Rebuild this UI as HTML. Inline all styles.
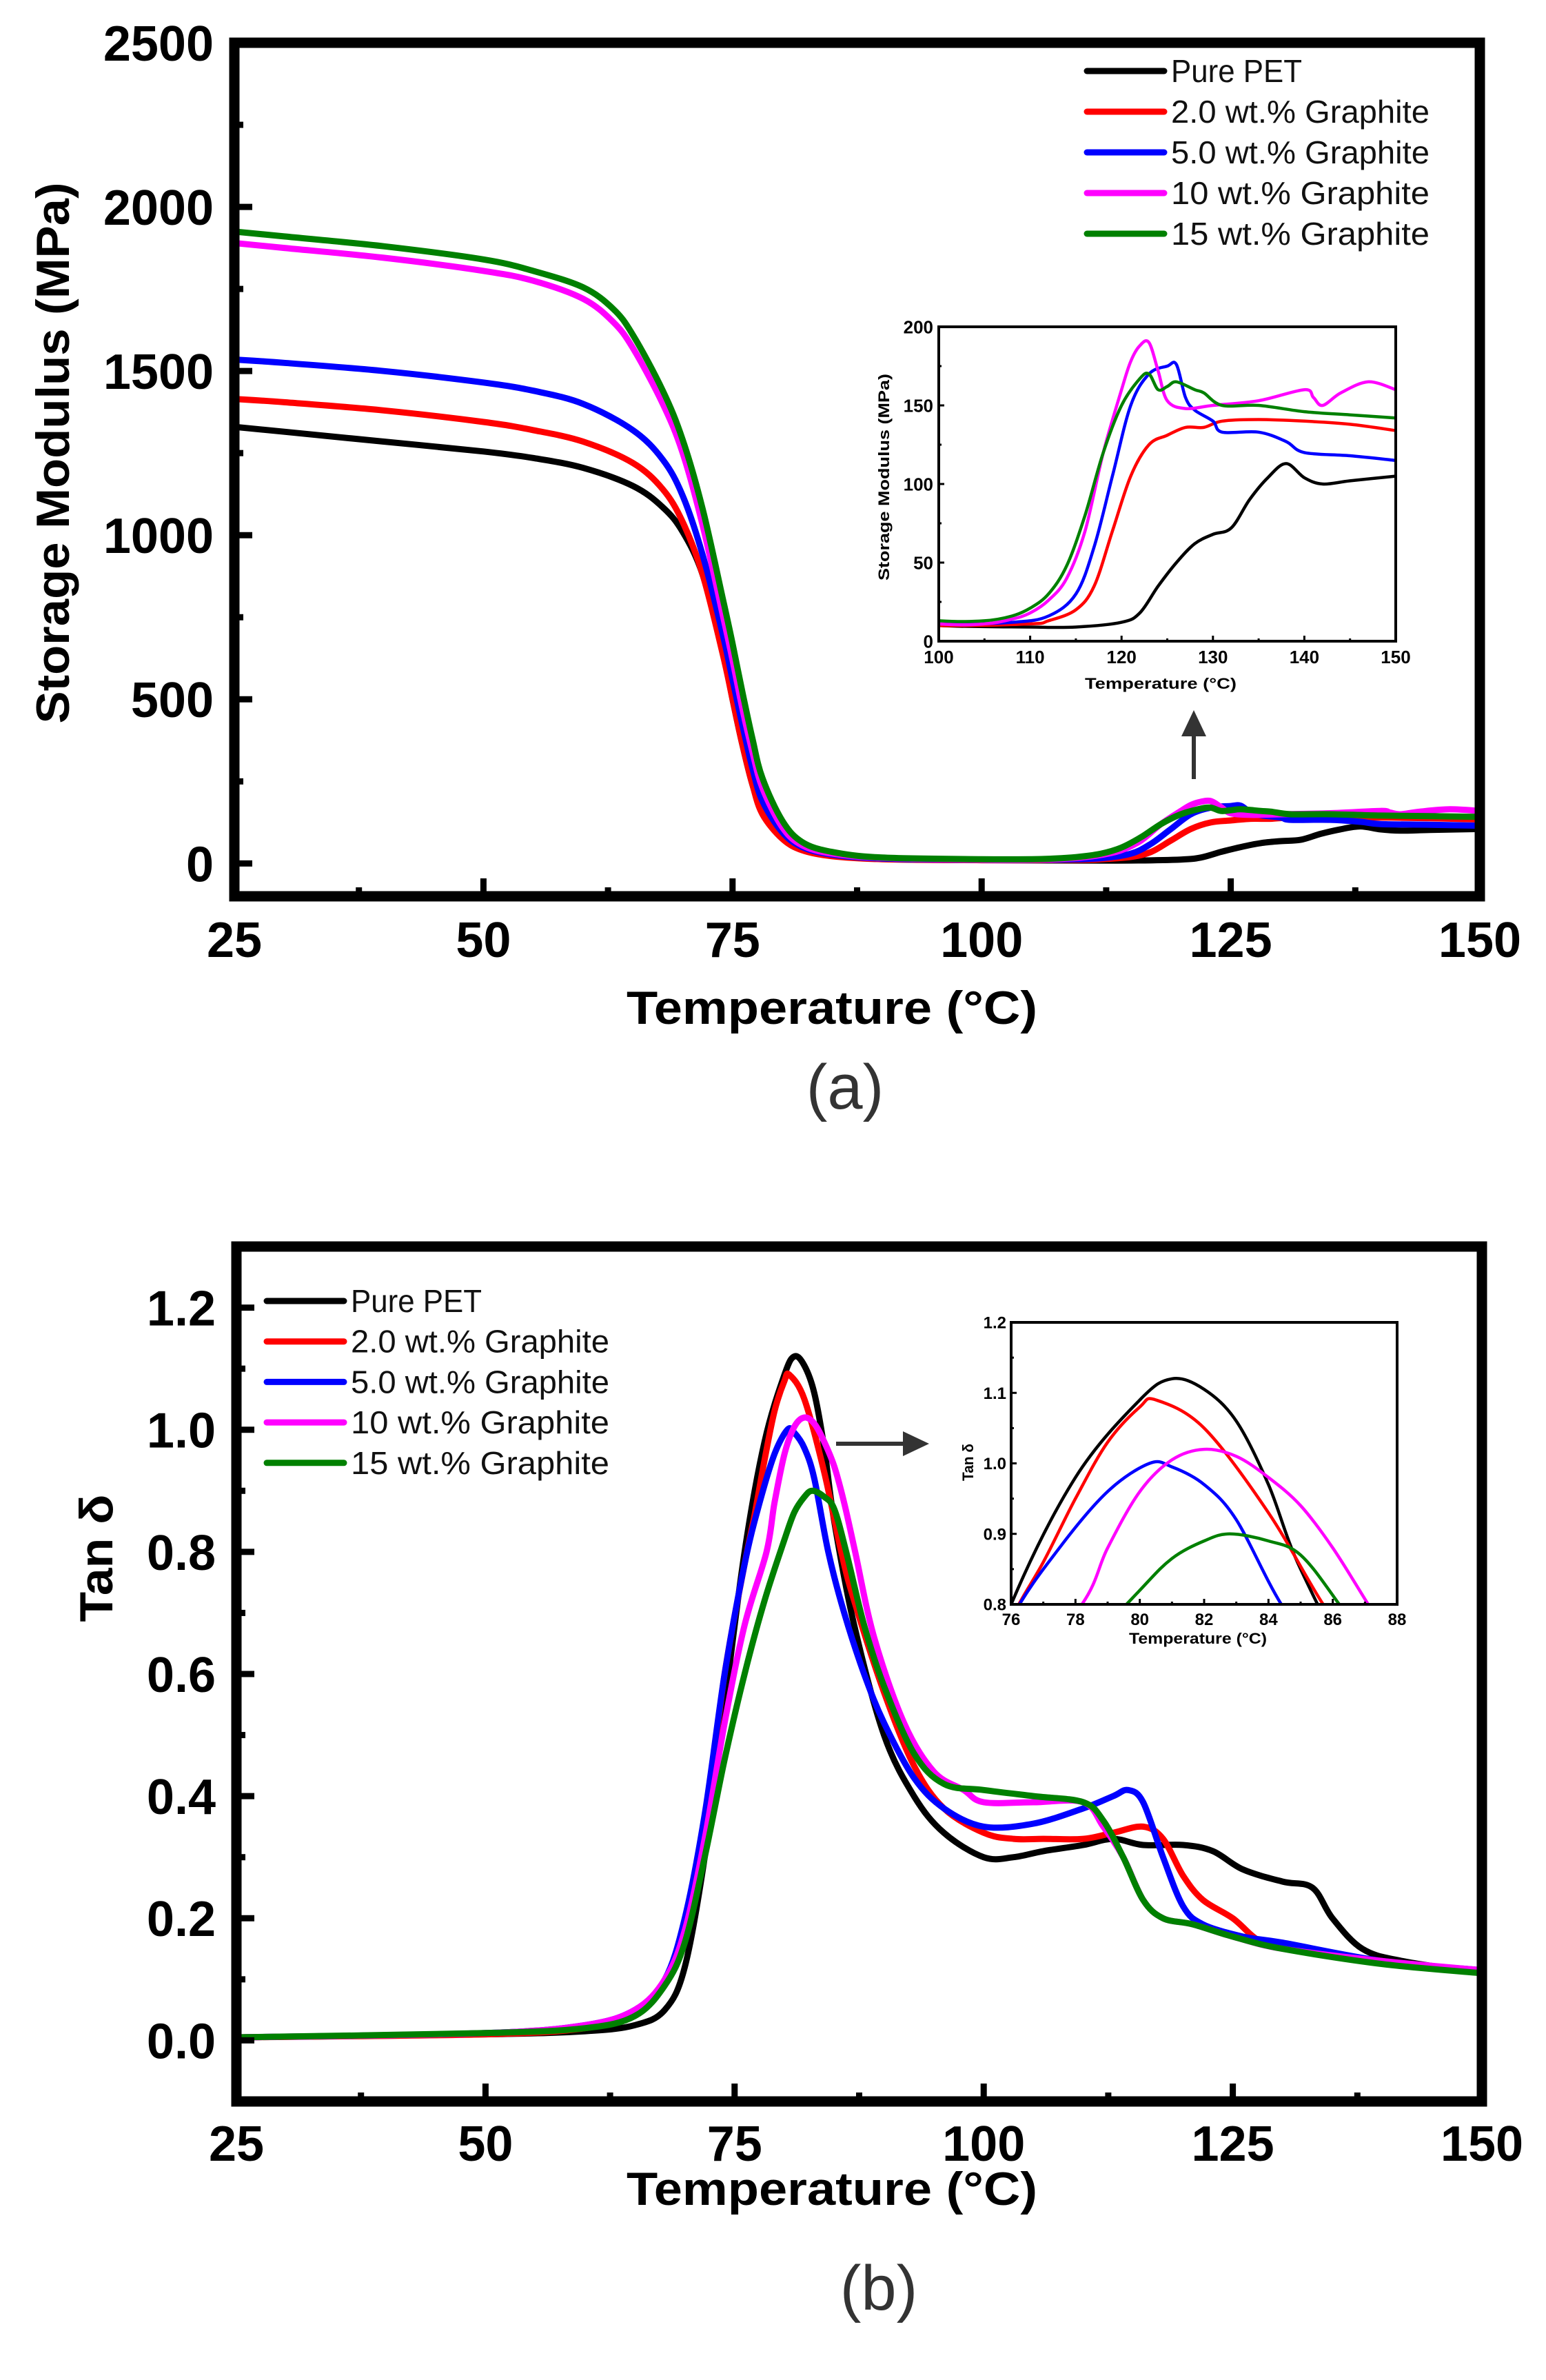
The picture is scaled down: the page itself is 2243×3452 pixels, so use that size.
<!DOCTYPE html>
<html><head><meta charset="utf-8"><style>
html,body{margin:0;padding:0;background:#fff;}
svg{display:block;font-family:"Liberation Sans",Arial,sans-serif;}
</style></head><body>
<svg id="fig" width="2243" height="3452" viewBox="0 0 2243 3452" xmlns="http://www.w3.org/2000/svg">
<defs>
<clipPath id="clipA"><rect x="340" y="62" width="1807" height="1238"/></clipPath>
<clipPath id="clipAi"><rect x="1362" y="474" width="663" height="456"/></clipPath>
<clipPath id="clipB"><rect x="343" y="1808" width="1807" height="1240"/></clipPath>
<clipPath id="clipBi"><rect x="1467" y="1918" width="560" height="409"/></clipPath>
</defs>
<g id="root"></g>
</svg>
<script>
// ---------- data: storage modulus (panel a) ----------
const seriesNames = ["Pure PET","2.0 wt.% Graphite","5.0 wt.% Graphite","10  wt.% Graphite","15  wt.% Graphite"];
const seriesColors = ["#000000","#ff0000","#0000ff","#ff00ff","#008000"];
const modT0 = [25,30,40,50,55,60,65,68,70,72,74,75,76,77,78,80,82,85,90,100,110,115,120,122,124,126,128,130,132,134,136,138,140,142,145,150];
const modV0 = [1330,1315,1285,1255,1235,1205,1150,1085,1010,880,650,500,360,240,160,80,45,25,15,10,9,9,12,18,35,50,62,68,72,90,104,113,104,100,102,105];
const modT1 = [25,30,40,50,55,60,65,68,70,72,74,75,76,77,78,80,82,85,90,100,110,112,115,117,119,121,123,125,127,129,131,135,140,145,150];
const modV1 = [1415,1405,1380,1345,1320,1285,1220,1140,1040,880,640,500,360,240,150,75,40,22,13,10,11,13,20,35,70,105,125,131,136,136,140,141,140,138,134];
const modT2 = [25,30,40,50,55,60,65,68,70,72,74,75,76,77,78,80,82,85,90,100,108,112,115,117,119,121,123,125,126,127,128,130,131,135,138,140,145,150];
const modV2 = [1535,1525,1500,1465,1440,1400,1320,1230,1120,940,700,560,420,290,190,95,50,27,15,11,12,16,30,60,105,150,170,175,176,155,147,140,133,133,127,120,118,115];
const modT3 = [25,30,40,50,55,60,63,65,68,70,72,74,75,76,77,78,80,82,85,90,100,105,108,110,112,114,116,118,120,121,122,123,124,125,127,130,135,140,141,142,144,147,150];
const modV3 = [1890,1875,1845,1805,1775,1720,1650,1570,1400,1250,1030,760,620,470,340,230,110,55,30,17,11,11,14,18,26,40,70,120,160,178,188,190,172,153,148,150,153,160,155,150,158,165,160];
const modT4 = [25,30,40,50,55,60,63,65,68,70,72,74,75,76,77,78,80,82,85,90,100,105,108,110,112,114,116,118,120,122,123,124,125,126,128,129,131,135,140,145,150];
const modV4 = [1925,1910,1880,1840,1805,1755,1690,1610,1440,1290,1080,810,670,520,380,260,130,65,35,18,13,13,16,21,30,48,80,120,150,167,170,160,162,165,160,158,150,150,146,144,142];
// ---------- data: tan delta (panel b) ----------
const tanT0 = [25,50,60,65,68,70,72,74,76,78,80,81,82,83,84,85,87,90,93,96,100,103,106,110,113,116,120,123,126,130,133,135,138,142,150];
const tanV0 = [0.005,0.01,0.015,0.025,0.05,0.12,0.3,0.55,0.8,0.98,1.09,1.12,1.105,1.06,0.97,0.85,0.68,0.5,0.4,0.34,0.3,0.3,0.31,0.32,0.33,0.32,0.32,0.31,0.28,0.26,0.25,0.2,0.15,0.13,0.11];
const tanT1 = [25,50,60,65,68,70,72,74,76,77,78,79,80,80.5,82,84,85.7,87,90,93,96,100,103,106,110,113,116,118,120,122,125,128,132,140,150];
const tanV1 = [0.005,0.01,0.02,0.045,0.1,0.18,0.35,0.6,0.78,0.86,0.95,1.03,1.08,1.09,1.05,0.93,0.8,0.72,0.57,0.45,0.38,0.34,0.33,0.33,0.33,0.34,0.35,0.33,0.27,0.23,0.2,0.16,0.15,0.13,0.11];
const tanT2 = [25,50,60,65,68,70,72,74,76,77.5,79,80.3,81,82,83,84.4,86,88,90,93,96,100,105,110,113,114.5,116,118,120,122,126,130,140,150];
const tanV2 = [0.005,0.012,0.025,0.05,0.1,0.2,0.37,0.6,0.78,0.88,0.96,1.0,0.995,0.97,0.92,0.8,0.7,0.6,0.52,0.43,0.38,0.35,0.355,0.38,0.4,0.41,0.39,0.3,0.22,0.19,0.17,0.16,0.13,0.115];
const tanT3 = [25,50,60,65,68,70,72,74,76,78.2,79,80,81,82,83,84,85,86,87.1,89,92,95,98,100,105,110,112,114,116,118,121,125,130,140,150];
const tanV3 = [0.005,0.012,0.025,0.05,0.1,0.18,0.33,0.52,0.68,0.8,0.88,0.96,1.005,1.02,1.01,0.98,0.94,0.88,0.8,0.66,0.52,0.44,0.41,0.39,0.39,0.39,0.35,0.3,0.23,0.2,0.19,0.17,0.15,0.13,0.115];
const tanT4 = [25,50,60,65,68,70,72,74,76,78,80,81,82,82.8,84,85,86.2,88,90,93,96,100,105,110,112,114,116,118,121,125,130,140,150];
const tanV4 = [0.005,0.012,0.02,0.04,0.09,0.16,0.3,0.46,0.6,0.72,0.82,0.865,0.89,0.9,0.89,0.87,0.8,0.68,0.58,0.47,0.42,0.41,0.4,0.39,0.36,0.3,0.23,0.2,0.19,0.17,0.15,0.125,0.11];
// ---------- tick labels ----------
const mainXTicks = [25,50,75,100,125,150];
const modYTicks = [0,500,1000,1500,2000,2500];
const tanYTicks = [0.0,0.2,0.4,0.6,0.8,1.0,1.2];
const insetAXTicks = [100,110,120,130,140,150];
const insetAYTicks = [0,50,100,150,200];
const insetBXTicks = [76,78,80,82,84,86,88];
const insetBYTicks = [0.8,0.9,1.0,1.1,1.2];

const modT=[modT0,modT1,modT2,modT3,modT4], modV=[modV0,modV1,modV2,modV3,modV4];
const tanT=[tanT0,tanT1,tanT2,tanT3,tanT4], tanV=[tanV0,tanV1,tanV2,tanV3,tanV4];

const NS="http://www.w3.org/2000/svg";
const root=document.getElementById('root');
function mk(tag,attrs,parent,text){const e=document.createElementNS(NS,tag);for(const k in attrs)e.setAttribute(k,attrs[k]);if(text!==undefined)e.textContent=text;(parent||root).appendChild(e);return e;}
function scale(d0,d1,r0,r1){return v=>r0+(v-d0)/(d1-d0)*(r1-r0);}
function smoothPath(p){
  let d='M'+p[0][0].toFixed(1)+','+p[0][1].toFixed(1);
  for(let i=0;i<p.length-1;i++){
    const p0=p[Math.max(0,i-1)],p1=p[i],p2=p[i+1],p3=p[Math.min(p.length-1,i+2)];
    const t=1/6;
    const c1x=p1[0]+(p2[0]-p0[0])*t,c1y=p1[1]+(p2[1]-p0[1])*t;
    const c2x=p2[0]-(p3[0]-p1[0])*t,c2y=p2[1]-(p3[1]-p1[1])*t;
    d+=' C'+c1x.toFixed(1)+','+c1y.toFixed(1)+' '+c2x.toFixed(1)+','+c2y.toFixed(1)+' '+p2[0].toFixed(1)+','+p2[1].toFixed(1);
  }
  return d;
}

function axes(cfg){
  const g=mk('g',{});
  
  
  const sx=scale(cfg.xd[0],cfg.xd[1],cfg.L,cfg.R), sy=scale(cfg.yd[0],cfg.yd[1],cfg.B,cfg.T);
  const sg=mk('g',{'clip-path':'url(#'+cfg.clip+')'},g);
  for(let i=0;i<5;i++){
    const pts=cfg.ts[i].map((t,j)=>[sx(t),sy(cfg.vs[i][j])]);
    const pl=mk('path',{d:smoothPath(pts),fill:'none',stroke:seriesColors[i],'stroke-width':cfg.lw,'stroke-linejoin':'round','stroke-linecap':'round'},sg);
    
    
  }
  const fr=mk('rect',{x:cfg.L,y:cfg.T,width:cfg.R-cfg.L,height:cfg.B-cfg.T,fill:'none',stroke:'#000','stroke-width':cfg.fw},g);
  
  
  const xt=cfg.xt;
  for(let k=0;k<xt.length;k++){
    const x=sx(xt[k]);
    mk('line',{x1:x,x2:x,y1:cfg.B,y2:cfg.B-cfg.tl,stroke:'#000','stroke-width':cfg.tw},g);
    if(k<xt.length-1){const xm=sx((xt[k]+xt[k+1])/2);mk('line',{x1:xm,x2:xm,y1:cfg.B,y2:cfg.B-cfg.tl/2,stroke:'#000','stroke-width':cfg.tw},g);}
    const t=mk('text',{x:x,y:cfg.B+cfg.xlOff,'text-anchor':'middle','font-size':cfg.fs,'font-weight':'bold'},g,String(xt[k]));
    
    
  }
  const yt=cfg.yt;
  for(let k=0;k<yt.length;k++){
    const y=sy(yt[k]);
    mk('line',{x1:cfg.L,x2:cfg.L+cfg.tl,y1:y,y2:y,stroke:'#000','stroke-width':cfg.tw},g);
    if(k<yt.length-1){const ym=sy((yt[k]+yt[k+1])/2);mk('line',{x1:cfg.L,x2:cfg.L+cfg.tl/2,y1:ym,y2:ym,stroke:'#000','stroke-width':cfg.tw},g);}
    const t=mk('text',{x:cfg.ylX,y:y+cfg.fs*0.36,'text-anchor':'end','font-size':cfg.fs,'font-weight':'bold'},g,cfg.yfmt(yt[k]));
    
    
  }
  const xtitle=mk('text',{x:cfg.xtX,y:cfg.xtY,'text-anchor':'middle','font-size':cfg.tfs,'font-weight':'bold',textLength:cfg.xtLen,lengthAdjust:'spacingAndGlyphs'},g,'Temperature (°C)');
  
  
  const ytitle=mk('text',{x:0,y:0,transform:'translate('+cfg.ytX+','+cfg.ytY+') rotate(-90)','text-anchor':'middle','font-size':cfg.tfs,'font-weight':'bold',textLength:cfg.ytLen,lengthAdjust:'spacingAndGlyphs'},g,cfg.ytitle);
  
  
}
function legend(x,y0,dy){
  const g=mk('g',{});
  
  
  for(let i=0;i<5;i++){
    const y=y0+i*dy;
    const e=mk('g',{},g);
    
    
    mk('line',{x1:x,x2:x+112,y1:y,y2:y,stroke:seriesColors[i],'stroke-width':9,'stroke-linecap':'round'},e);
    mk('text',{x:x+122,y:y+16,'font-size':46,textLength:i===0?190:375,lengthAdjust:'spacingAndGlyphs',fill:'#111','xml:space':'preserve'},e,seriesNames[i]);
  }
}
function arrow(x1,y1,x2,y2,name){
  const g=mk('g',{});
  
  
  const dx=x2-x1,dy=y2-y1,l=Math.hypot(dx,dy),ux=dx/l,uy=dy/l;
  const hx=x2-ux*38,hy=y2-uy*38;
  mk('line',{x1:x1,y1:y1,x2:hx,y2:hy,stroke:'#333','stroke-width':6},g);
  mk('polygon',{points:x2+','+y2+' '+(hx-uy*18)+','+(hy+ux*18)+' '+(hx+uy*18)+','+(hy-ux*18),fill:'#333'},g);
}
const fmt0=v=>String(v), fmt1=v=>v.toFixed(1);

axes({name:'storage-modulus-chart',xd:[25,150],yd:[-100,2500],L:340,R:2147,T:62,B:1300,clip:'clipA',ts:modT,vs:modV,lw:9,fw:15,
  xt:mainXTicks,yt:modYTicks,tl:26,tw:9,fs:72,xlOff:88,ylX:310,yfmt:fmt0,tfs:68,xtX:1207,xtY:1485,xtLen:596,ytX:100,ytY:657,ytLen:785,ytitle:'Storage Modulus (MPa)'});
legend(1577,103,59);
axes({name:'storage-modulus-inset',xd:[100,150],yd:[0,200],L:1362,R:2025,T:474,B:930,clip:'clipAi',ts:modT,vs:modV,lw:4.5,fw:4,
  xt:insetAXTicks,yt:insetAYTicks,tl:8,tw:3,fs:26,xlOff:32,ylX:1354,yfmt:fmt0,tfs:22,xtX:1684,xtY:999,xtLen:220,ytX:1290,ytY:692,ytLen:300,ytitle:'Storage Modulus (MPa)'});
arrow(1732,1130,1732,1030,'zoom-arrow-a');
const la=mk('text',{x:1226,y:1608,'text-anchor':'middle','font-size':92,fill:'#333'},root,'(a)');



axes({name:'tan-delta-chart',xd:[25,150],yd:[-0.1,1.3],L:343,R:2150,T:1808,B:3048,clip:'clipB',ts:tanT,vs:tanV,lw:9,fw:15,
  xt:mainXTicks,yt:tanYTicks,tl:26,tw:9,fs:72,xlOff:86,ylX:313,yfmt:fmt1,tfs:68,xtX:1207,xtY:3198,xtLen:596,ytX:163,ytY:2260,ytLen:185,ytitle:'Tan δ'});
legend(387,1887,58.7);
axes({name:'tan-delta-inset',xd:[76,88],yd:[0.8,1.2],L:1467,R:2027,T:1918,B:2327,clip:'clipBi',ts:tanT,vs:tanV,lw:4.5,fw:4,
  xt:insetBXTicks,yt:insetBYTicks,tl:8,tw:3,fs:24,xlOff:30,ylX:1460,yfmt:fmt1,tfs:22,xtX:1738,xtY:2384,xtLen:200,ytX:1412,ytY:2121,ytLen:54,ytitle:'Tan δ'});
arrow(1213,2094,1348,2094,'zoom-arrow-b');
const lb=mk('text',{x:1275,y:3350,'text-anchor':'middle','font-size':92,fill:'#333'},root,'(b)');


</script>
</body></html>
